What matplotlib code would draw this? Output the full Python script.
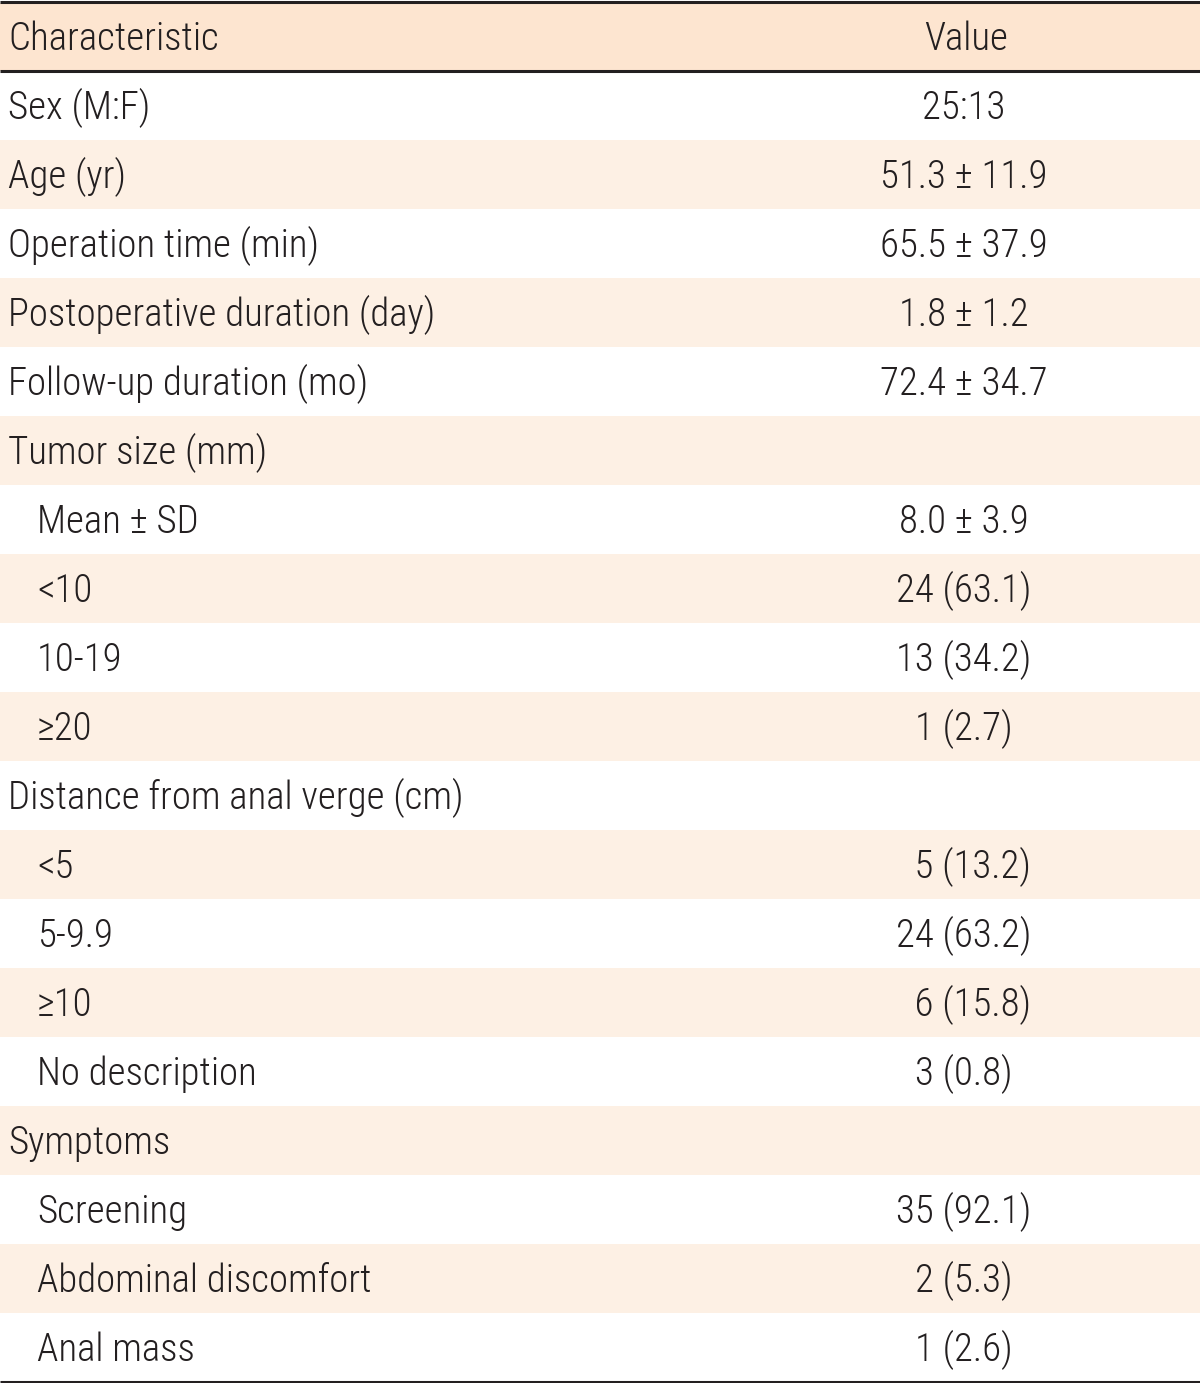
import matplotlib
matplotlib.use("Agg")
import matplotlib.pyplot as plt
from matplotlib.patches import Rectangle

header = ["Characteristic", "Value"]
characteristics = [
    "Sex (M:F)", "Age (yr)", "Operation time (min)", "Postoperative duration (day)",
    "Follow-up duration (mo)", "Tumor size (mm)", "Mean \u00b1 SD", "<10", "10-19",
    "\u226520", "Distance from anal verge (cm)", "<5", "5-9.9", "\u226510",
    "No description", "Symptoms", "Screening", "Abdominal discomfort", "Anal mass",
]
indent = [0, 0, 0, 0, 0, 0, 1, 1, 1, 1, 0, 1, 1, 1, 1, 0, 1, 1, 1]
values = [
    "25:13", "51.3 \u00b1 11.9", "65.5 \u00b1 37.9", "1.8 \u00b1 1.2", "72.4 \u00b1 34.7",
    "", "8.0 \u00b1 3.9", "24 (63.1)", "13 (34.2)", "1 (2.7)", "",
    "  5 (13.2)", "24 (63.2)", "  6 (15.8)", "3 (0.8)", "",
    "35 (92.1)", "2 (5.3)", "1 (2.6)",
]

W, H = 1200, 1383
fig = plt.figure(figsize=(W / 100, H / 100), dpi=100)
ax = fig.add_axes([0, 0, 1, 1])
ax.set_xlim(0, W)
ax.set_ylim(H, 0)
ax.axis("off")

fam = ["Liberation Sans Narrow", "Roboto Condensed", "Roboto", "DejaVu Sans"]
fs = 28
fw = "light"
txt_color = "#231f20"
head_bg = "#fde5d0"
alt_bg = "#fdf0e4"

top = 2.5
head_bottom = 70.5
row_h = 69.0

ax.add_patch(Rectangle((0, top), W, head_bottom - top, facecolor=head_bg, edgecolor="none"))
cap = 14
ax.text(8, (top + head_bottom) / 2 + cap, header[0], fontsize=fs, family=fam, weight=fw,
        color=txt_color, va="baseline", ha="left")
ax.text(966, (top + head_bottom) / 2 + cap, header[1], fontsize=fs, family=fam, weight=fw,
        color=txt_color, va="baseline", ha="center")

for i, (c, v, ind) in enumerate(zip(characteristics, values, indent)):
    y0 = head_bottom + i * row_h
    if i % 2 == 1:
        ax.add_patch(Rectangle((0, y0), W, row_h, facecolor=alt_bg, edgecolor="none"))
    yc = y0 + row_h / 2 + cap
    ax.text(8 + 29 * ind, yc, c, fontsize=fs, family=fam, weight=fw, color=txt_color,
            va="baseline", ha="left")
    if v:
        ax.text(964, yc, v, fontsize=fs, family=fam, weight=fw, color=txt_color,
                va="baseline", ha="center")

bottom = head_bottom + len(characteristics) * row_h
lw = 2.2
ax.plot([0, W], [top - 0.5, top - 0.5], color=txt_color, lw=lw, solid_capstyle="butt")
ax.plot([0, W], [head_bottom, head_bottom], color=txt_color, lw=lw, solid_capstyle="butt")
ax.plot([0, W], [bottom, bottom], color=txt_color, lw=lw, solid_capstyle="butt")

fig.savefig("out.png", dpi=100)
